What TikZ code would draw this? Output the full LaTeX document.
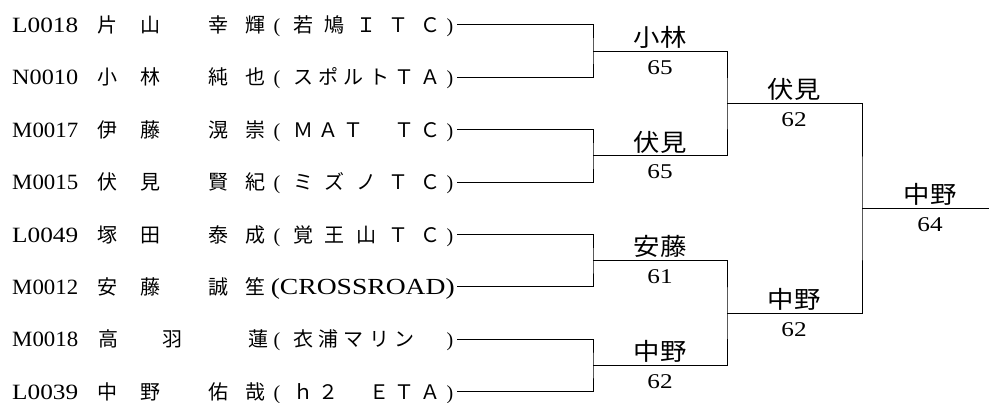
\documentclass[tikz,border=0pt]{standalone}
\usepackage{fontspec}
\usepackage{graphicx}
\setmainfont{Liberation Serif}
\newfontfamily\jpfont{Noto Sans CJK JP}
\tikzset{
  txt/.style={anchor=base, inner sep=0pt, font=\fontsize{20}{24}\selectfont},
  jp/.style={anchor=base, inner sep=0pt, font=\jpfont\fontsize{20}{24}\selectfont},
  winner/.style={anchor=base, inner sep=0pt, font=\jpfont\fontsize{24}{28}\selectfont},
  score/.style={anchor=base, inner sep=0pt, font=\fontsize{21}{24}\selectfont},
  bracket/.style={line width=1pt},
}
\begin{document}
\begin{tikzpicture}[x=1pt,y=-1pt]
\useasboundingbox (0,0) rectangle (989,403);

% players: row y / id / name chars / club pitch / club chars
\foreach \y/\id/\names/\pitch/\club [count=\i] in {
  25/L0018/{107/片,150/山,218/幸,255/輝}/31.75/{若,鳩,Ｉ,Ｔ,Ｃ},
  77.4/N0010/{107/小,150/林,218/純,255/也}/25.4/{ス,ポ,ル,ト,Ｔ,Ａ},
  129.8/M0017/{107/伊,150/藤,218/滉,255/崇}/25.4/{Ｍ,Ａ,Ｔ,{},Ｔ,Ｃ},
  182.2/M0015/{107/伏,150/見,218/賢,255/紀}/31.75/{ミ,ズ,ノ,Ｔ,Ｃ},
  234.6/L0049/{107/塚,150/田,218/泰,255/成}/31.75/{覚,王,山,Ｔ,Ｃ},
  339.4/M0018/{108/高,172/羽,258/蓮}/25.4/{衣,浦,マ,リ,ン,{}},
  391.8/L0039/{107/中,150/野,218/佑,255/哉}/25.4/{ｈ,２,{},Ｅ,Ｔ,Ａ}} {
  \node[txt, anchor=base west] (id\i) at (12,\y+7.5) {\resizebox{66pt}{14.5pt}{\id}};
  \foreach \x/\c [count=\k] in \names
    \node[jp] (nm\i-\k) at (\x,\y+7.5) {\c};
  \node[txt] (lp\i) at (277,\y+7.5) {(};
  \foreach \c [count=\k from 0] in \club
    \node[jp] (cl\i-\k) at (303+\pitch*\k,\y+7.5) {\c};
  \node[txt] (rp\i) at (450,\y+7.5) {)};
}
% row 6
\node[txt, anchor=base west] (id9) at (12,294.5) {\resizebox{66pt}{14.5pt}{M0012}};
\foreach \x/\c [count=\k] in {107/安,150/藤,218/誠,255/笙}
  \node[jp] (nm9-\k) at (\x,294.5) {\c};
\node[txt, anchor=base east] (cl9) at (455,294.5)
  {\scalebox{1.2}[1]{\fontsize{23}{24}\selectfont(CROSSROAD)}};

\foreach \y [count=\i] in {25,77.4,129.8,182.2,234.6,287,339.4,391.8}
  \coordinate (e\i) at (457,\y);
\coordinate (j1) at (593,51.2);
\coordinate (j2) at (593,156);
\coordinate (j3) at (593,260.8);
\coordinate (j4) at (593,365.6);
\coordinate (k1) at (727,103.6);
\coordinate (k2) at (727,313.2);
\coordinate (f) at (862,208.4);
\coordinate (end) at (989,208.4);

\draw[bracket] (e1) -| (j1) |- (e2);
\draw[bracket] (e3) -| (j2) |- (e4);
\draw[bracket] (e5) -| (j3) |- (e6);
\draw[bracket] (e7) -| (j4) |- (e8);
\draw[bracket] (j1) -| (k1) |- (j2);
\draw[bracket] (j3) -| (k2) |- (j4);
\draw[bracket] (k1) -| (f) |- (k2);
\draw[bracket] (f) -- (end);

% winners and scores
\foreach \x/\y/\w/\s [count=\i] in {660/51.2/小林/65, 660/156/伏見/65,
    660/260.8/安藤/61, 660/365.6/中野/62, 794/103.6/伏見/62,
    794/313.2/中野/62, 930/208.4/中野/64} {
  \node[winner] (w\i) at (\x,\y-4.9) {\scalebox{1.1}[1]{\w}};
  \node[score] (s\i) at (\x,\y+23) {\scalebox{1.2}[1]{\s}};
}
\end{tikzpicture}
\end{document}
